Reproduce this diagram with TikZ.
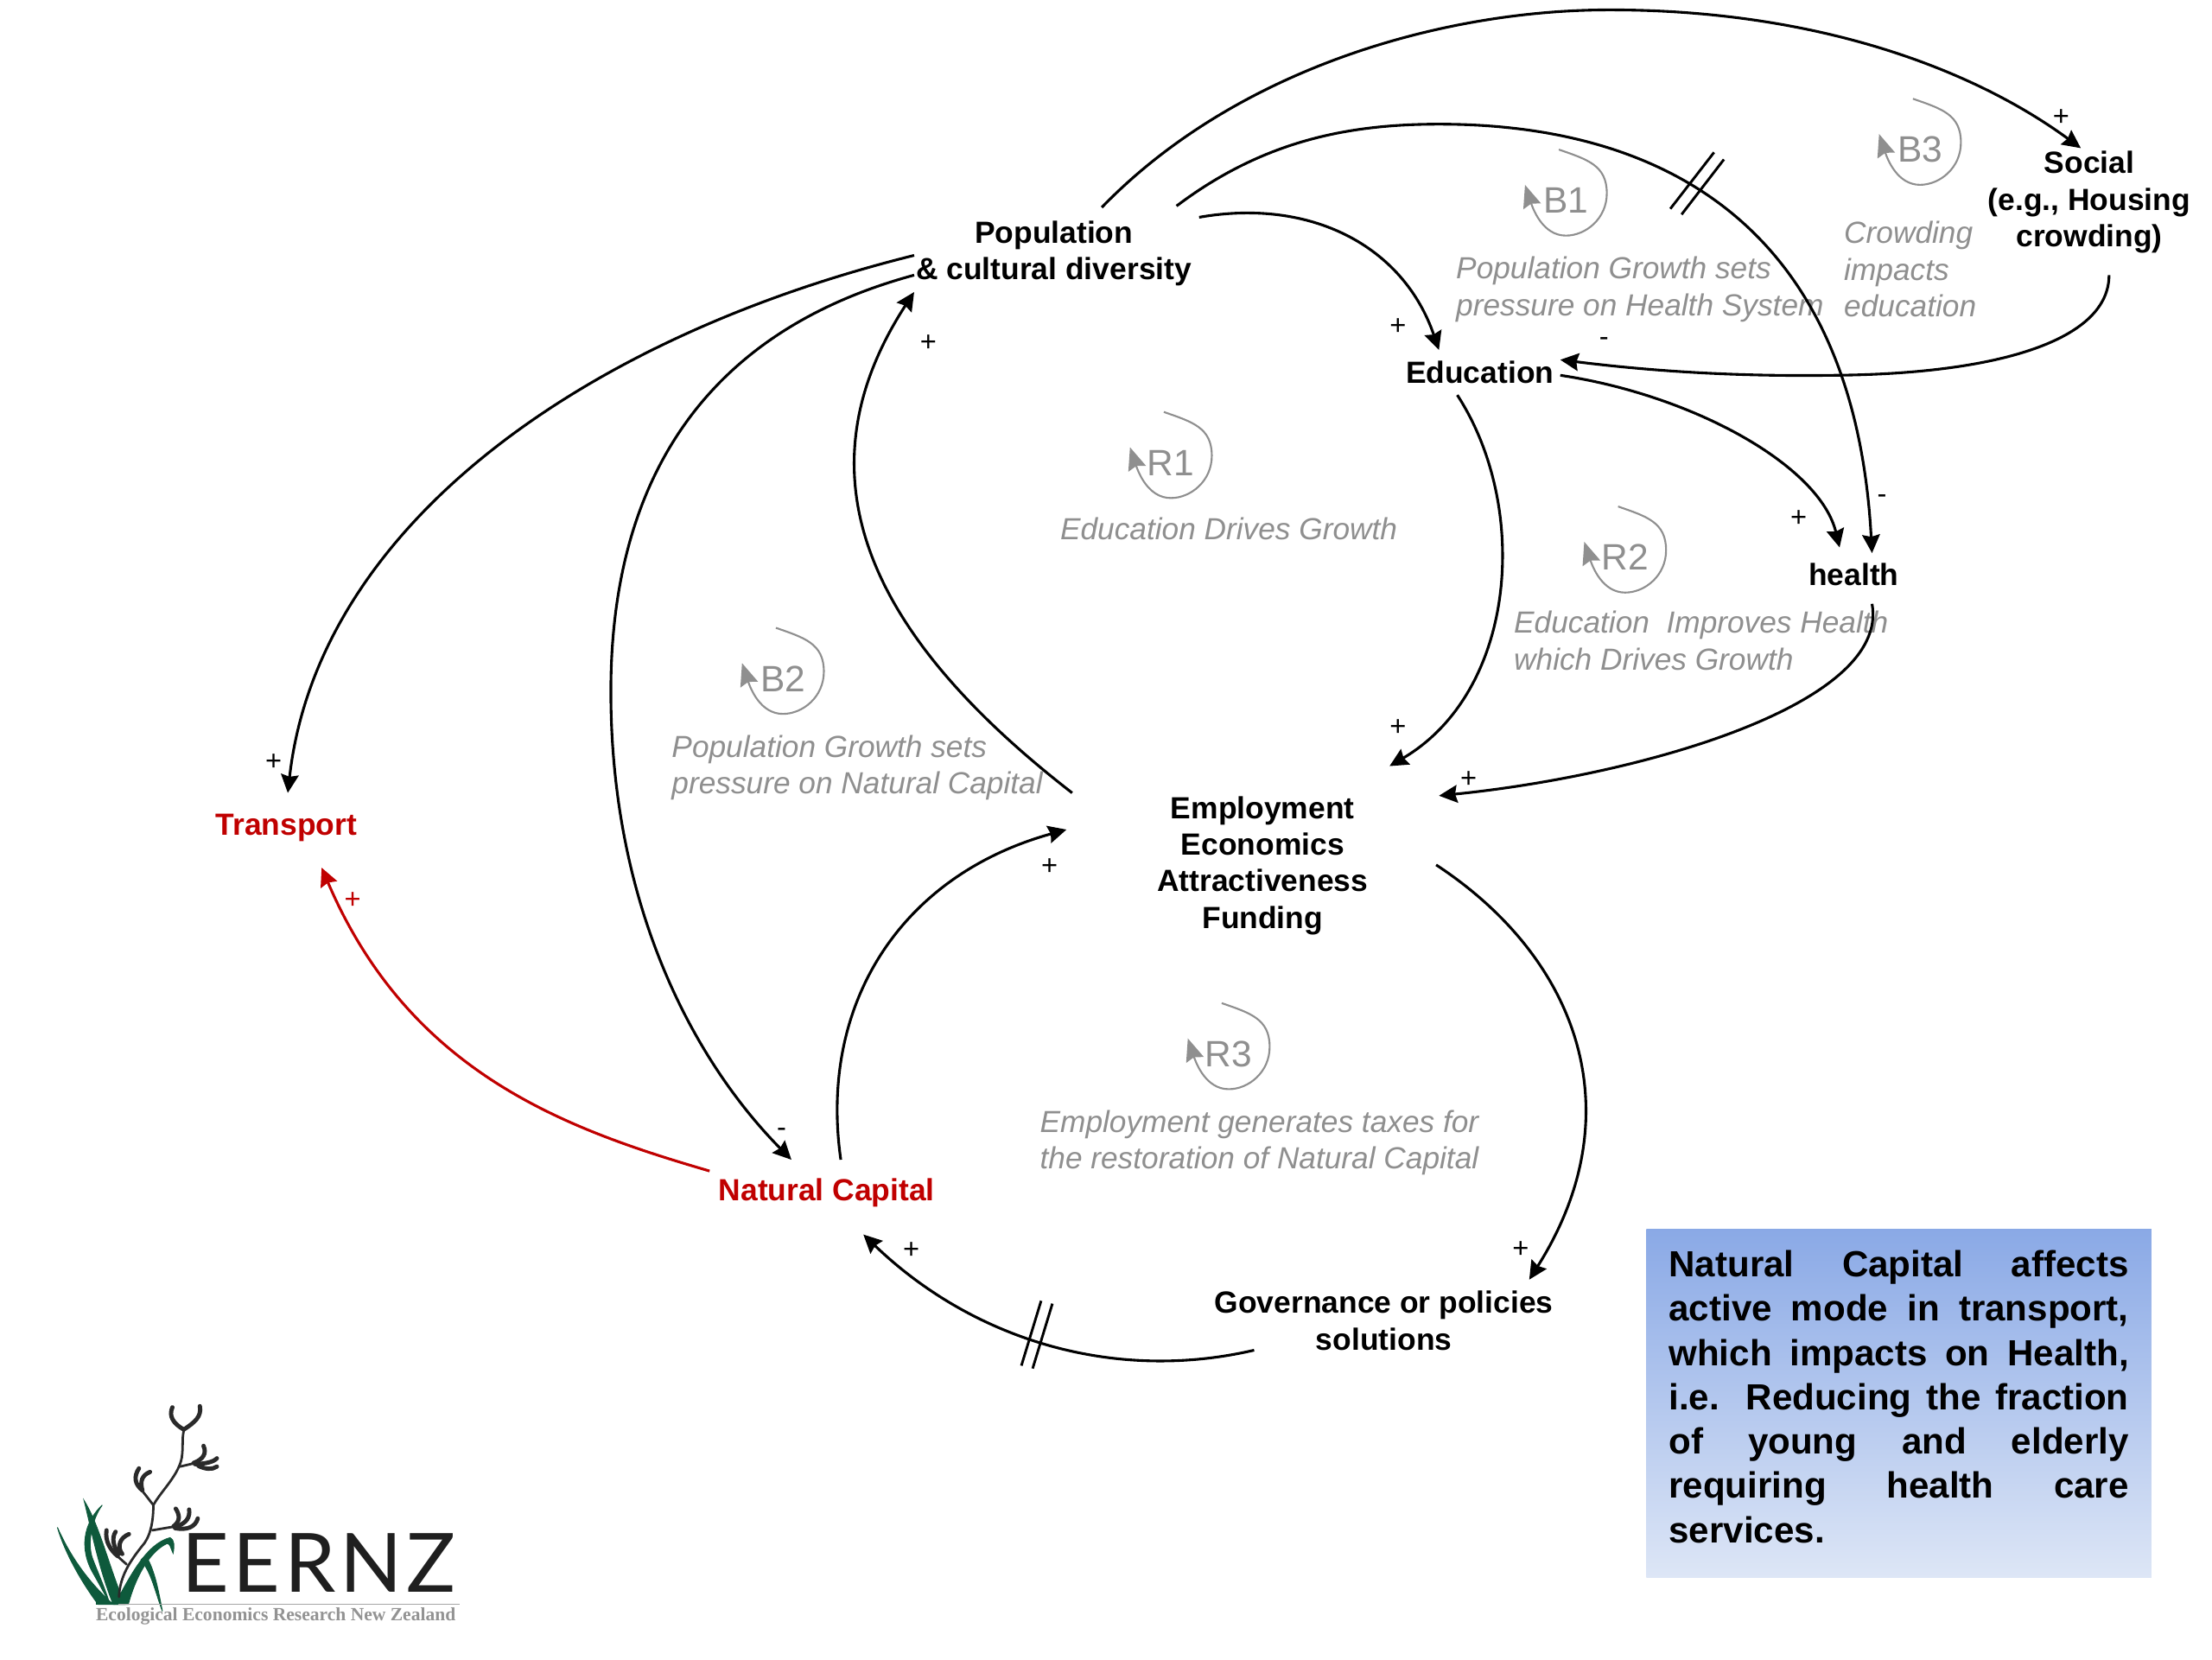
\documentclass[tikz,border=0pt]{standalone}
\usepackage{fontspec}
\setmainfont{Liberation Sans}
\newfontfamily\logofont{Liberation Serif}
\newfontfamily\logoname[LetterSpace=5]{Lato}
\usetikzlibrary{arrows.meta}
\definecolor{looka}{HTML}{8F8F8F}
\definecolor{redc}{HTML}{C00000}
\definecolor{greenl}{HTML}{0E5A3C}
\definecolor{stemc}{HTML}{2A2A2A}
\definecolor{boxtop}{HTML}{8AA9E6}
\definecolor{boxbot}{HTML}{DDE6F6}
\tikzset{
  var/.style={align=center,inner sep=0pt,font=\fontsize{21.7}{26}\selectfont\bfseries,text=black},
  redvar/.style={var,text=redc},
  note/.style={align=left,inner sep=0pt,font=\fontsize{21.6}{26}\selectfont\itshape,text=looka},
  looplab/.style={inner sep=0pt,font=\fontsize{26}{30}\selectfont,text=looka},
  sign/.style={inner sep=0pt,font=\fontsize{20}{20}\selectfont,text=black},
  conn/.style={line width=1.9pt,-{Stealth[length=13pt,width=12.5pt,inset=1.5pt]}},
  redconn/.style={conn,draw=redc},
  loopline/.style={line width=1.3pt,draw=looka,-{Stealth[length=16pt,width=13pt,inset=2pt,fill=looka]}},
  hash/.style={line width=1.8pt},
  claw/.style={line width=3pt,draw=stemc,line cap=round},
  stem/.style={line width=1.7pt,draw=stemc,line cap=round},
  blade/.style={fill=greenl,draw=greenl,line width=.6pt},
}
\newcommand{\loopsym}[3]{%
  \node[looplab] (#1) at (#2) {#3};
  \draw[loopline] ([shift={(-5,-36)}]#1.center) .. controls +(20,7) and +(0,-20) .. ([shift={(29,-5)}]#1.center)
     .. controls +(0,18) and +(14,0) .. ([shift={(0,25)}]#1.center)
     .. controls +(-16,0) and +(6,18) .. ([shift={(-29,-11)}]#1.center);
}
\begin{document}
\begin{tikzpicture}[x=1pt,y=-1pt]
\useasboundingbox (0,0) rectangle (1568,1176);
\fill[white] (0,0) rectangle (1568,1176);

% variables
\node[var] (pop) at (747,179.5) {Population\\\& cultural diversity};
\node[var] (soc) at (1481,143.5) {Social\\(e.g., Housing\\crowding)};
\node[var] (edu) at (1049,264) {Education};
\node[var] (hea) at (1314,407) {health};
\node[var] (emp) at (895,613.5) {Employment\\Economics\\Attractiveness\\Funding};
\node[redvar] (nat) at (586,845.5) {Natural Capital};
\node[redvar] (tra) at (203,586.5) {Transport};
\node[var] (gov) at (981,936) {Governance or policies\\solutions};

% loop notes
\node[note,anchor=west] (n1) at (1032,205) {Population Growth sets\\pressure on Health System};
\node[note,anchor=west] (n2) at (1307,191) {Crowding\\impacts\\education};
\node[note] (n3) at (871,375) {Education Drives Growth};
\node[note,anchor=west] (n4) at (1073,454) {Education\ \ Improves Health\\which Drives Growth};
\node[note,anchor=west] (n5) at (476,544) {Population Growth sets\\pressure on Natural Capital};
\node[note,anchor=west] (n6) at (737,810) {Employment generates taxes for\\the restoration of Natural Capital};

% loop symbols
\loopsym{b1}{1110,142}{B1}
\loopsym{b3}{1361,106}{B3}
\loopsym{r1}{830,328}{R1}
\loopsym{r2}{1152,395}{R2}
\loopsym{b2}{555,481}{B2}
\loopsym{r3}{871,747}{R3}

% connectors
\draw[conn] ([shift={(34,-32.5)}]pop.center) .. controls (875,50) and (1020,7) .. (1141,7)
   .. controls (1290,7) and (1400,50) .. ([shift={(-6,-38.5)}]soc.center);
\draw[conn] ([shift={(87,-33.5)}]pop.center) .. controls (895,100) and (955,88) .. (1020,88)
   .. controls (1190,88) and (1315,170) .. ([shift={(13,-15)}]hea.center);
\draw[conn] ([shift={(103,-25.5)}]pop.center) .. controls (930,140) and (995,175) .. ([shift={(-29,-16)}]edu.center);
\draw[conn] ([shift={(57,2)}]edu.center) .. controls (1200,280) and (1290,330) .. ([shift={(-10,-19)}]hea.center);
\draw[conn] ([shift={(14,51.5)}]soc.center) .. controls (1495,240) and (1420,265) .. (1300,266)
   .. controls (1230,267) and (1170,263) .. ([shift={(57,-9)}]edu.center);
\draw[conn] ([shift={(-16,16)}]edu.center) .. controls (1085,360) and (1075,490) .. ([shift={(90,-70.5)}]emp.center);
\draw[conn] ([shift={(13,21)}]hea.center) .. controls (1340,500) and (1160,550) .. ([shift={(125,-49.5)}]emp.center);
\draw[conn] ([shift={(-135,-51.5)}]emp.center) .. controls (635,465) and (555,350) .. ([shift={(-99,27.5)}]pop.center);
\draw[conn] ([shift={(-99,1.5)}]pop.center) .. controls (410,240) and (225,375) .. ([shift={(1,-24.5)}]tra.center);
\draw[conn] ([shift={(-99,15.5)}]pop.center) .. controls (500,235) and (433,340) .. (433,490)
   .. controls (433,640) and (490,750) .. ([shift={(-25,-23.5)}]nat.center);
\draw[conn] ([shift={(10,-23.5)}]nat.center) .. controls (580,710) and (640,620) .. ([shift={(-139,-25.5)}]emp.center);
\draw[conn] ([shift={(123,-.5)}]emp.center) .. controls (1120,680) and (1158,790) .. ([shift={(103,-29)}]gov.center);
\draw[conn] ([shift={(-92,21)}]gov.center) .. controls (790,980) and (690,950) .. ([shift={(26,29.5)}]nat.center);
\draw[redconn] ([shift={(-83,-15.5)}]nat.center) .. controls (400,800) and (290,760) .. ([shift={(25,28.5)}]tra.center);

% delay marks
\draw[hash] (1184,148) -- (1215,108);
\draw[hash] (1192,152) -- (1222,113);
\draw[hash] (724,968) -- (738,922);
\draw[hash] (732,970) -- (746,924);

% polarity signs
\node[sign] (s1) at (1461,83.5) {+};
\node[sign] (s2) at (991,231.5) {+};
\node[sign] (s3) at (1137,242.5) {-};
\node[sign] (s4) at (1275,367.5) {+};
\node[sign] (s5) at (1334,353.5) {-};
\node[sign] (s6) at (658,243.5) {+};
\node[sign] (s7) at (991,515.5) {+};
\node[sign] (s8) at (1041,552.5) {+};
\node[sign] (s9) at (194,540.5) {+};
\node[sign] (s10) at (744,614.5) {+};
\node[sign,text=redc] (s11) at (250,638.5) {+};
\node[sign] (s12) at (554,802.5) {-};
\node[sign] (s13) at (646,886.5) {+};
\node[sign] (s14) at (1078,885.5) {+};

% text box
\node[top color=boxtop,bottom color=boxbot,minimum width=358pt,minimum height=247pt,inner sep=0pt] (box) at (1346,994.5) {};
\node[inner sep=0pt,text width=326pt,align=justify,font=\fontsize{25.8}{31.4}\selectfont\bfseries] (boxtext) at (1346,990)
  {\sloppy Natural Capital affects\linebreak active mode in transport,\linebreak which impacts on Health,\linebreak i.e. Reducing the fraction\linebreak of young and elderly\linebreak requiring health care\linebreak services.};

% logo
\begin{scope}[shift={(-1.5,966)},x=.237pt,y=-.21pt]
  % grass
  \path[blade] (178,555) .. controls (200,640) and (250,740) .. (300,815) -- (345,815) .. controls (270,740) and (215,650) .. (178,555) -- cycle;
  \path[blade] (258,465) .. controls (275,540) and (300,690) .. (345,815) -- (380,815) .. controls (335,700) and (305,550) .. (258,465) -- cycle;
  \path[blade] (312,480) .. controls (265,530) and (240,610) .. (280,700) .. controls (300,740) and (320,780) .. (335,815) .. controls (320,760) and (300,710) .. (283,660) .. controls (267,610) and (280,530) .. (312,480) -- cycle;
  \path[blade] (350,815) .. controls (395,720) and (445,610) .. (515,590) .. controls (528,595) and (528,620) .. (524,642) .. controls (515,620) and (515,608) .. (505,610) .. controls (450,640) and (410,730) .. (390,815) -- cycle;
  \path[blade] (442,650) .. controls (470,700) and (480,770) .. (492,838) .. controls (470,770) and (460,710) .. (428,665) -- cycle;
  \path[blade] (295,808) rectangle (385,816);
  % stems
  \draw[stem] (362,790) .. controls (365,720) and (395,670) .. (430,620) .. controls (455,590) and (465,540) .. (465,480)
     .. controls (490,430) and (540,380) .. (550,320) .. controls (555,280) and (550,260) .. (556,228);
  \draw[stem] (465,480) -- (432,432);
  \draw[stem] (545,350) -- (590,338);
  \draw[stem] (462,565) -- (530,552);
  \draw[stem] (385,680) -- (355,650);
  % flowers
  \draw[claw] (556,225) .. controls (525,205) and (510,180) .. (522,150);
  \draw[claw] (556,225) .. controls (590,200) and (610,180) .. (604,146);
  \draw[claw] (585,338) .. controls (615,325) and (625,305) .. (615,280);
  \draw[claw] (590,342) .. controls (620,340) and (645,335) .. (655,322);
  \draw[claw] (600,348) .. controls (620,358) and (640,362) .. (655,350);
  \draw[claw] (432,430) .. controls (410,410) and (405,385) .. (422,356);
  \draw[claw] (432,430) .. controls (425,400) and (430,380) .. (455,368);
  \draw[claw] (525,552) .. controls (545,535) and (545,515) .. (532,492);
  \draw[claw] (535,552) .. controls (565,540) and (575,520) .. (572,495);
  \draw[claw] (530,558) .. controls (565,565) and (590,555) .. (598,525);
  \draw[claw] (358,652) .. controls (335,630) and (320,600) .. (325,565);
  \draw[claw] (362,645) .. controls (345,620) and (340,590) .. (352,570);
  \draw[claw] (372,645) .. controls (355,620) and (365,590) .. (392,578);
  % wordmark rule
  \draw[draw=gray!70,line width=.8pt] (360,815) -- (1380,815);
\end{scope}
\node[inner sep=0pt,text=black!88,font=\fontsize{58}{58}\logoname] (logoname) at (226,1108) {EERNZ};
\node[inner sep=0pt,text=gray!85,font=\fontsize{13.2}{14}\logofont\bfseries] (logosub) at (195.5,1145.5) {Ecological Economics Research New Zealand};
\end{tikzpicture}
\end{document}
